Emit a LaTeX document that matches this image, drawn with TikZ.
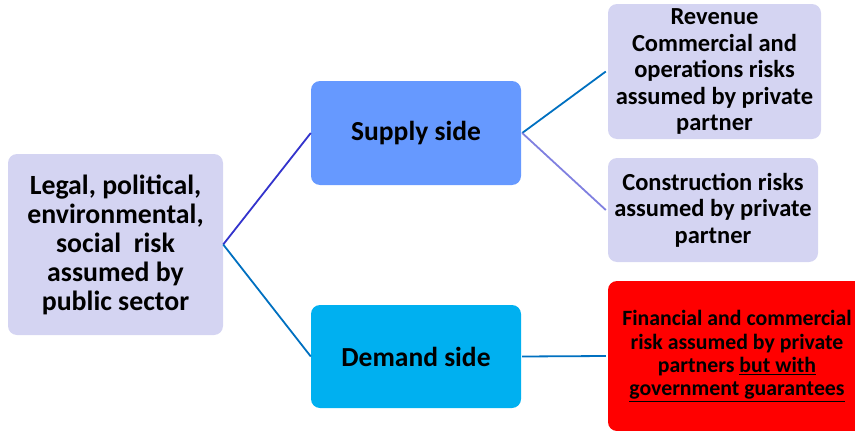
\documentclass[tikz,border=0pt]{standalone}
\usepackage{fontspec}
\setmainfont{Carlito}
\definecolor{lav}{HTML}{D4D4F2}
\definecolor{supplyc}{HTML}{6699FF}
\definecolor{demandc}{HTML}{00B0F0}
\definecolor{linkblue}{HTML}{0070C0}
\definecolor{linkviolet}{HTML}{3333CC}
\definecolor{linklav}{HTML}{8080E0}
\begin{document}
\begin{tikzpicture}[x=1pt,y=-1pt,
  box/.style={rectangle,rounded corners=9pt,draw=none,align=center,inner sep=0pt,font=\bfseries},
  link/.style={line width=1.8pt}]
\useasboundingbox (0,0) rectangle (855,431);
\node[box,fill=lav,minimum width=215pt,minimum height=181pt,font=\bfseries\fontsize{27.8}{29}\selectfont] (pub) at (115.5,244.5)
  {Legal, political,\\environmental,\\social\ \ risk\\assumed by\\public sector};
\node[box,fill=supplyc,minimum width=210pt,minimum height=104pt,font=\bfseries\fontsize{27.5}{30}\selectfont] (sup) at (416,133)
  {Supply side};
\node[box,fill=demandc,minimum width=210pt,minimum height=103pt,font=\bfseries\fontsize{27.5}{30}\selectfont] (dem) at (416,356.5)
  {Demand side};
\node[box,fill=lav,minimum width=213pt,minimum height=135pt,font=\bfseries\fontsize{24.5}{26.5}\selectfont] (rev) at (714.5,71.5)
  {Revenue\\Commercial and\\operations risks\\assumed by private\\partner};
\node[box,fill=lav,minimum width=210pt,minimum height=104pt,font=\bfseries\fontsize{24.5}{26.5}\selectfont] (con) at (713,210)
  {Construction risks\\assumed by private\\partner};
\node[box,fill=red,minimum width=258pt,minimum height=150pt,font=\bfseries\fontsize{21.8}{23.3}\selectfont] (fin) at (737,356)
  {Financial and commercial\\risk assumed by private\\partners \underline{but with}\\\underline{government guarantees}};
\draw[link,linkviolet] (pub.east) -- (sup.west);
\draw[link,linkblue] (pub.east) -- (dem.west);
\draw[link,linkblue] ([xshift=1pt]sup.east) -- ([xshift=-2pt]rev.west);
\draw[link,linklav] ([xshift=1pt]sup.east) -- ([xshift=-2pt]con.west);
\draw[link,linkblue] ([xshift=1pt]dem.east) -- ([xshift=-2pt]fin.west);
\end{tikzpicture}
\end{document}
